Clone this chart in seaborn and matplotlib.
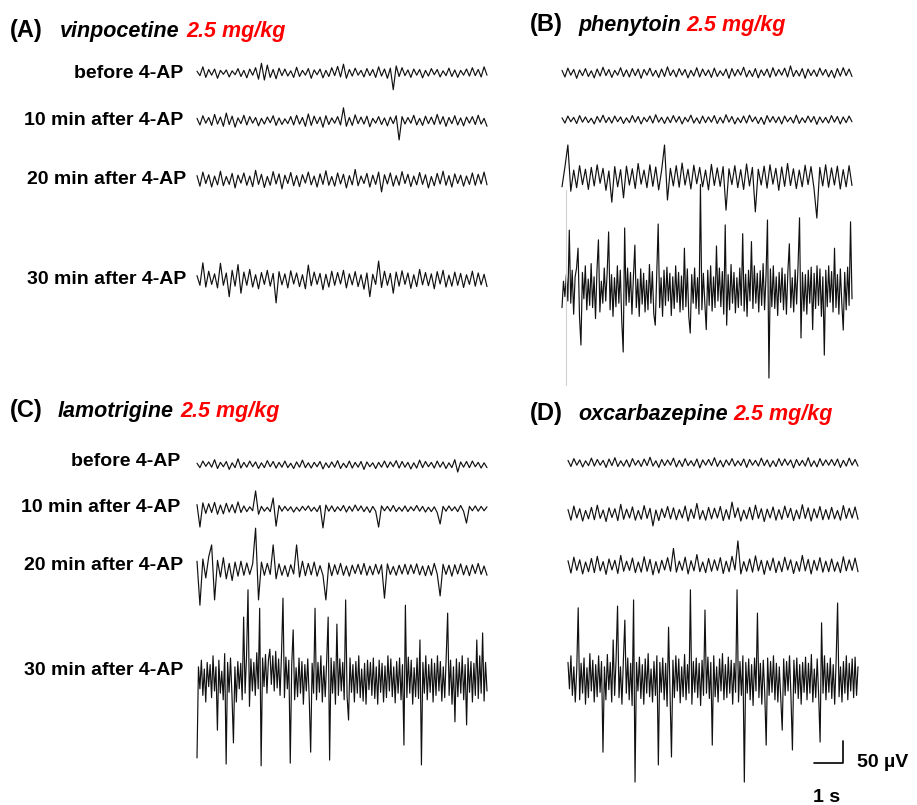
import numpy as np
import matplotlib
matplotlib.use("Agg")
import matplotlib.pyplot as plt
import seaborn as sns

sns.set_theme(style="white")
plt.rcParams['font.family'] = ['Liberation Sans', 'DejaVu Sans']
plt.rcParams['text.color'] = 'black'

# ---------------- data (µV, evenly sampled over 10 s per trace) ----------------
conditions = ["before 4-AP", "10 min after 4-AP", "20 min after 4-AP", "30 min after 4-AP"]
drugs = ["vinpocetine", "phenytoin", "lamotrigine", "oxcarbazepine"]
panel_tags = ["(A)", "(B)", "(C)", "(D)"]
dose = "2.5 mg/kg"

A_before = [4,-6,14,-10,8,-5,9,-12,6,-3, 7,-9,5,-4,10,-8,6,-11,9,-5,
            12,-14,22,-16,18,-10,8,-13,11,-6, 9,-7,5,-10,13,-8,6,-5,10,-12,
            7,-4,9,-11,6,-8,12,-6,15,-9, 20,-12,8,-7,11,-5,6,-9,10,-6,
            8,-10,14,-7,9,-12,11,-38,16,-8, 12,-6,7,-10,9,-5,8,-11,6,-7,
            10,-4,8,-9,5,-6,11,-8,7,-10, 6,-5,9,-7,12,-6,8,-9,14,-5]
A_10 = [6,-9,12,-5,8,-10,15,-7,9,-12, 18,-8,11,-14,7,-6,13,-9,10,-5,
        8,-11,6,-7,9,-4,12,-10,7,-8, 5,-6,10,-9,13,-7,8,-12,16,-10,
        11,-6,9,-14,12,-8,7,-5,10,-9, 30,-12,8,-10,14,-6,9,-7,11,-13,
        6,-5,10,-8,7,-11,9,-6,12,-43, 10,-7,8,-5,13,-9,6,-10,11,-6,
        9,-8,15,-7,10,-12,8,-6,12,-9, 7,-11,9,-5,10,-8,13,-7,6,-12]
A_20 = [10,-14,18,-8,12,-16,9,-11,20,-13, 8,-10,15,-18,11,-7,16,-12,9,-15,
        22,-10,13,-17,8,-12,19,-9,14,-20, 11,-8,17,-13,10,-15,12,-7,18,-11,
        9,-16,14,-10,21,-12,8,-14,16,-9, 13,-18,10,-11,24,-13,9,-8,15,-16,
        11,-10,18,-27,12,-9,16,-14,10,-12, 19,-8,13,-15,9,-11,17,-10,12,-18,
        8,-13,15,-9,20,-12,10,-16,14,-8, 11,-14,9,-10,16,-12,13,-9,18,-11]
A_30 = [10,-12,39,-16,20,-10,14,-18,38,-12, 16,-38,22,-14,35,-30,18,-12,24,-16,
        12,-20,17,-10,22,-14,15,-52,19,-11, 14,-18,21,-9,16,-15,12,-20,34,-13,
        18,-10,15,-22,13,-16,20,-12,17,-9, 22,-18,14,-11,19,-15,12,-21,16,-38,
        13,-10,43,-17,20,-12,15,-30,18,-14, 21,-10,16,-19,12,-15,24,-11,17,-13,
        14,-20,19,-9,22,-16,11,-14,18,-12, 15,-17,12,-10,20,-14,16,-11,13,-15]

B_before = [6,-9,11,-5,8,-12,7,-6,10,-8, 5,-11,9,-7,13,-6,8,-10,6,-5,
            12,-8,7,-9,10,-6,9,-12,8,-5, 11,-7,6,-10,9,-8,14,-6,7,-9,
            10,-5,8,-11,6,-7,12,-9,9,-6, 7,-10,11,-8,5,-6,9,-12,10,-7,
            8,-5,13,-9,6,-8,10,-11,7,-6, 9,-10,12,-7,8,-5,11,-9,16,-8,
            6,-7,10,-12,9,-6,7,-8,11,-5, 8,-9,6,-11,10,-7,12,-6,9,-8]
B_10 = [5,-7,9,-4,6,-8,10,-5,7,-6, 4,-9,8,-5,11,-6,6,-7,9,-4,
        7,-8,5,-6,10,-5,8,-9,6,-4, 9,-7,12,-5,6,-8,7,-6,10,-5,
        8,-9,6,-4,11,-7,5,-8,9,-6, 7,-5,10,-8,6,-7,12,-5,8,-9,
        5,-6,9,-7,11,-4,7,-8,6,-10, 10,-5,8,-6,7,-9,9,-4,6,-7,
        11,-8,5,-6,9,-5,8,-10,7,-6, 6,-7,10,-5,8,-9,7,-6,9,-4]
B_20 = [-20,25,75,-30,18,-22,28,-15,20,-26, 24,-18,30,-12,22,-28,16,-55,26,-20,
        19,-45,27,-16,21,-24,33,-14,18,-22, 30,-19,25,-27,17,75,-50,22,-18,28,
        -21,34,-16,20,-25,29,-13,24,-20,18, -27,31,-17,23,-19,26,-73,21,-15,28,
        -22,19,-26,32,-18,24,-77,20,-16,27, -23,30,-14,22,-28,25,-19,33,-17,21,
        -24,18,-20,29,-15,26,-22,-91,24,-18, 30,-21,23,-16,27,-25,19,-20,28,-17]
B_30 = [-40,20,-15,35,-25,136,-30,45,-55,30, 50,95,-60,-125,40,-20,55,-45,25,-35,
        60,-40,30,-65,45,114,-50,20,-30,50, -25,40,132,-45,35,-60,28,-38,55,-30,
        45,-70,-141,141,-35,50,-28,40,-55,30, 102,-40,25,-60,48,-32,38,-50,22,-45,
        58,-30,42,-55,-80,35,150,-40,28,-60, 45,-35,52,-25,38,-58,30,-42,55,-28,
        40,-50,32,-45,95,-38,48,-60,-98,35, -30,50,-42,28,-55,240,-45,38,-30,-90,
        45,-35,55,-48,30,-40,100,-25,50,-38, 42,-55,148,-80,35,-45,58,-30,40,-52,
        28,-40,50,-35,128,-48,36,-60,45,-25, 110,-42,55,-30,38,-50,44,-35,60,-45,
        32,159,-200,48,-38,55,-42,30,-58,40, -28,50,-45,36,-55,42,105,-40,28,-50,
        46,-32,58,164,-109,40,-48,35,-55,45, -30,52,-90,38,-42,55,-35,48,-60,30,
        -148,45,-38,55,-28,42,-50,95,-40,35, -55,48,-30,-91,40,-45,52,-35,155,-20]

C_before = [4,-6,9,-3,7,-5,12,-8,6,-4, 8,-10,5,-6,14,-7,6,-5,9,-4,
            7,-8,5,-6,10,-4,8,-7,6,-5, 9,-6,4,-8,7,-5,11,-6,5,-7,
            6,-4,8,-9,5,-6,7,-5,10,-8, 4,-6,9,-7,6,-5,8,-10,7,-4,
            5,-8,6,-5,9,-6,7,-4,10,-7, 8,-5,6,-9,5,-7,11,-6,8,-4,
            6,-7,9,-5,7,-8,5,-6,12,-16, 7,-5,8,-6,9,-4,6,-7,5,-6]
C_10 = [10,-41,14,-10,12,-8,15,-12,9,-11, 13,-7,10,-9,16,-8,7,-6,5,-4,
        41,-12,6,-5,4,-6,25,-39,8,-5, 6,-4,5,-7,4,-5,6,-3,7,-5,
        4,-6,8,-43,9,-5,7,-6,5,-4, 8,-7,6,-5,9,-4,7,-6,5,-8,
        6,-5,-41,7,-4,6,-5,8,-6,4, -5,7,-6,5,-4,8,-5,6,-7,4,
        -6,5,-8,-34,6,-5,7,-4,5,-6, 8,-5,-32,6,-4,7,-5,6,-4,5]
C_20 = [20,-80,25,-18,30,57,-68,22,-16,28, -20,15,-24,18,-14,20,-12,16,-10,14,
        95,-68,18,-12,15,-10,57,-20,14,-12, 10,-15,12,-9,57,-16,20,-13,15,-11,
        18,-14,10,-12,-68,16,-13,12,-10,15, -12,9,-14,11,-8,13,-10,15,-12,9,
        -11,13,-9,12,-64,14,-10,8,-12,11, -9,13,-10,12,-8,14,-11,9,-13,10,
        -12,15,-9,-59,13,-10,11,-14,12,-9, 14,-11,10,-13,12,-8,15,-10,9,-12]
C_30 = [-177,30,-20,45,-35,25,-50,40,-15,35, -40,55,-25,30,-114,45,-30,20,-45,60,
        -191,40,-28,50,-35,-143,30,-50,42,-20, 38,-45,143,-30,55,205,-60,48,-25,40,
        -35,62,-20,163,-195,50,-15,58,-30,45, 70,-10,55,-25,65,-18,48,-35,60,186,
        -40,52,-20,45,-189,35,114,-45,28,-38, 50,-30,42,-55,35,-25,48,-40,-164,38,
        -30,163,-45,40,-28,55,-50,32,-38,45, 143,-182,50,-30,42,-55,127,-35,48,-25,
        40,-45,182,-38,-91,50,-28,35,-50,42, -30,55,-40,25,-48,38,-55,45,-22,40,
        -35,50,-42,30,-55,45,-28,38,-50,32, -40,55,-25,48,-38,30,-52,42,-30,50,
        -45,35,-148,170,-40,52,-30,45,-55,28, -38,50,-42,91,-193,40,-30,55,-45,35,
        -28,48,-50,38,-35,55,-25,42,-48,30, -40,52,152,-35,45,-55,30,-95,48,-38,
        40,-30,55,-45,35,-102,50,-28,42,-50, 38,-35,91,-42,55,-30,107,-48,40,-25]

D_before = [6,-8,10,-5,7,-9,5,-6,11,-7, 8,-5,6,-10,9,-6,12,-8,5,-7,
            7,-9,10,-5,6,-8,9,-6,13,-7, 5,-10,8,-6,7,-5,11,-9,6,-8,
            10,-6,5,-7,9,-11,7,-5,8,-6, 12,-8,6,-9,7,-5,10,-7,5,-6,
            9,-10,8,-5,6,-7,11,-6,7,-9, 5,-8,10,-6,9,-5,7,-11,8,-6,
            6,-7,12,-8,5,-9,10,-6,7,-5, 8,-6,9,-10,6,-7,11,-5,8,-7]
D_10 = [10,-14,18,-9,12,-16,8,-11,15,-13, 20,-10,9,-17,14,-8,12,-15,22,-12,
        11,-9,16,-14,8,-12,19,-10,13,-27, 9,-15,12,-8,17,-11,14,-13,10,-9,
        18,-16,11,-10,24,-12,8,-14,15,-11, 13,-9,17,-15,10,-12,27,-8,14,-16,
        9,-11,15,-13,20,-10,12,-17,11,-9, 16,-14,10,-12,18,-8,13,-15,9,-11,
        21,-10,14,-16,12,-9,17,-13,10,-12, 15,-11,8,-14,19,-10,13,-9,16,-12]
D_20 = [12,-16,20,-10,14,-18,9,-13,17,-15, 22,-11,10,-19,16,-9,13,-17,24,-12,
        11,-10,18,-15,9,-14,21,-12,15,-20, 10,-16,13,-9,19,-12,40,-14,11,-10,
        20,-18,12,-11,26,-13,9,-15,17,-12, 14,-10,19,-17,11,-13,22,-9,57,-18,
        10,-12,16,-14,23,-11,13,-19,12,-10, 18,-15,11,-13,20,-9,14,-17,10,-12,
        24,-11,15,-18,13,-10,19,-14,11,-13, 16,-12,9,-15,21,-11,14,-10,18,-13]
D_30 = [40,-20,55,-35,30,-50,25,164,-45,38, -30,50,-55,28,-40,60,-25,45,-50,35,
        -38,55,-28,42,-164,30,-45,58,-22,40, -50,91,-35,48,168,-40,30,-55,45,136,
        -30,50,-45,38,-58,182,-232,40,-25,52, -42,35,-55,48,-30,60,-38,25,-50,42,
        -35,55,-193,40,-28,50,-45,38,-60,120, -30,-175,45,-40,55,-25,48,-52,30,-38,
        58,-45,35,-30,205,-55,42,-28,50,-40, 38,-58,45,-35,159,-30,52,-42,40,-148,
        55,-38,30,-50,48,-25,60,-45,35,-40, 52,-30,45,-55,38,-28,205,-50,42,-35,
        55,-232,40,-30,48,-45,35,-58,50,-25, 152,-40,38,-55,45,-30,-148,50,-35,42,
        -28,55,-45,38,-50,30,-40,-114,48,-35, 42,-25,55,-38,-159,45,-30,50,-42,35,
        -55,40,-28,52,-45,38,-30,58,-50,25, -40,48,-35,-141,130,-30,55,-45,38,-28,
        50,-42,35,-55,45,175,-38,30,-50,42, -30,55,-45,38,-25,48,-40,52,-35,30]

traces = {
    "A": [A_before, A_10, A_20, A_30],
    "B": [B_before, B_10, B_20, B_30],
    "C": [C_before, C_10, C_20, C_30],
    "D": [D_before, D_10, D_20, D_30],
}
DURATION_S = 10.0
SCALE_T = 1.0     # s
SCALE_V = 50.0    # µV

# ---------------- layout (pixels) ----------------
W, H = 917, 805
PX_PER_S = 29.0
PX_PER_UV = 22.0 / 50.0

panel_x0 = {"A": 197, "B": 562, "C": 197, "D": 568}
panel_base = {"A": [73, 121, 180, 280], "B": [73, 120, 178, 290],
              "C": [465, 509, 570, 680], "D": [463, 514, 566, 680]}

fig = plt.figure(figsize=(W / 100, H / 100), dpi=100)
ax = fig.add_axes([0, 0, 1, 1])
ax.set_xlim(0, W / PX_PER_S)
ax.set_ylim(0, H / PX_PER_UV)
ax.axis("off")

def t_of(px):
    return px / PX_PER_S

def v_of(py):
    return (H - py) / PX_PER_UV

for key, lst in traces.items():
    for vals, base in zip(lst, panel_base[key]):
        vals = np.asarray(vals, dtype=float)
        t = t_of(panel_x0[key]) + np.linspace(0, DURATION_S, len(vals))
        y = v_of(base) + vals
        sns.lineplot(x=t, y=y, ax=ax, color="#111111", linewidth=0.85,
                     estimator=None, sort=False)

# faint artifact line in panel B
ax.plot([t_of(566), t_of(566)], [v_of(190), v_of(385)], color="#d0d0d0", lw=0.8)

# scale bar
sb_x, sb_y = t_of(814), v_of(763)
ax.plot([sb_x, sb_x + SCALE_T, sb_x + SCALE_T], [sb_y, sb_y, sb_y + SCALE_V],
        color="black", lw=1.2)

def ftext(px, py, s, **kw):
    fig.text(px / W, 1 - py / H, s, **kw)

lab_kw = dict(fontsize=14, fontweight="bold", ha="right", va="center", color="black")
for lab, ry, rx in zip(conditions, [74, 120, 179, 280], [183, 183, 186, 186]):
    ftext(rx, ry, lab, **lab_kw)
for lab, ry, rx in zip(conditions, [461, 507, 565, 670], [180, 180, 183, 183]):
    ftext(rx, ry, lab, **lab_kw)

title_pos = [(10, 60, 186, 37), (530, 578, 686, 31), (10, 58, 180, 417), (530, 578, 733, 420)]
for tag, drug, (xt, xd, xr, yb) in zip(panel_tags, drugs, title_pos):
    ftext(xt, yb, tag, fontsize=17, fontweight="bold", ha="left", va="baseline", color="black")
    ftext(xd, yb, drug, fontsize=15.5, fontweight="bold", style="italic",
          ha="left", va="baseline", color="black")
    ftext(xr, yb, dose, fontsize=15.5, fontweight="bold", style="italic",
          color="#ff0000", ha="left", va="baseline")

ftext(857, 762, "50 µV", fontsize=14, fontweight="bold", ha="left", va="center", color="black")
ftext(813, 797, "1 s", fontsize=14, fontweight="bold", ha="left", va="center", color="black")

fig.savefig("out.png", dpi=100)
